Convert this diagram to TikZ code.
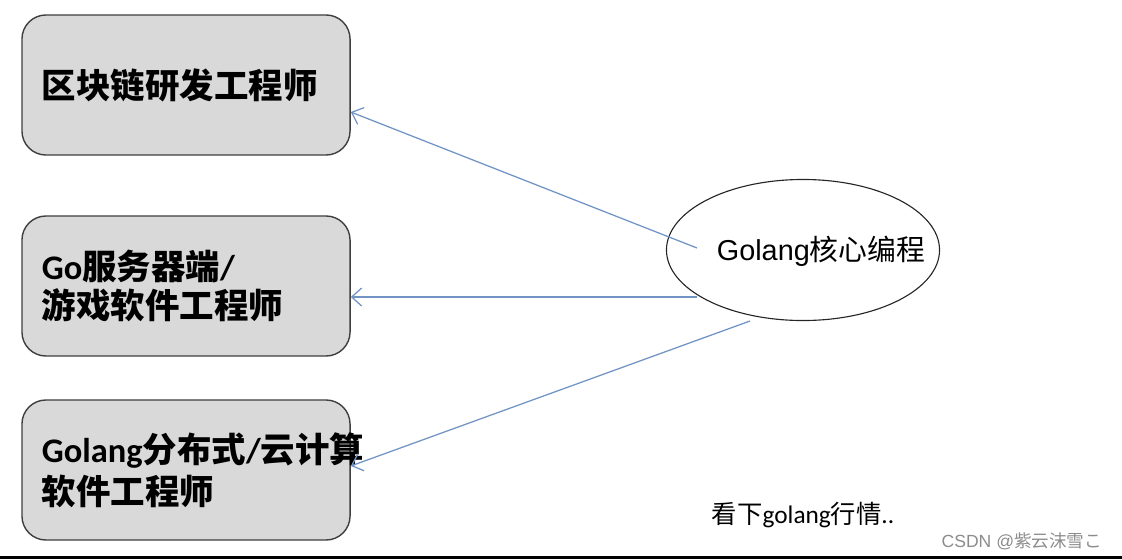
\documentclass[tikz,border=0pt]{standalone}
\usepackage{fontspec}
\setmainfont{Carlito}
\newfontfamily\cjk{Noto Sans CJK SC}
\newfontfamily\arial{Liberation Sans}
\newcommand\zh[1]{{\cjk #1}}
\usetikzlibrary{arrows.meta,calc,shapes.geometric}
\definecolor{boxgray}{HTML}{D9D9D9}
\definecolor{edgegray}{HTML}{3F3F3F}
\definecolor{arrowblue}{HTML}{7294C4}
\begin{document}
\begin{tikzpicture}[x=0.025cm,y=-0.025cm,
    job/.style={draw=edgegray,fill=boxgray,line width=1pt,rounded corners=0.6cm,
        minimum width=8.2cm,minimum height=3.5cm,text width=7.2cm,align=left,
        inner xsep=0.5cm,font=\fontsize{24.5}{28}\selectfont\bfseries},
    link/.style={draw=arrowblue,line width=0.9pt,-{Straight Barb[length=2.5mm,width=4.5mm]}}]
                    \useasboundingbox (0,0) rectangle (1122,559);
                    \node[job] (box1) at (186,85) {\zh{区块链研发工程师}};
                    \node[job] (box2) at (186,286) {Go\zh{服务器端}/\\\zh{游戏软件工程师}};
                    \node[job] (box3) at (186,470) {Golang\zh{分布式}/\zh{云计算}\\[2pt]\zh{软件工程师}};
                    \node[draw=black!85,line width=0.8pt,ellipse,inner sep=0pt,
                        minimum width=6.825cm,minimum height=3.525cm] (core) at (803,250) {};
                    \node[font=\fontsize{20.5}{24}\selectfont] (coretxt) at (821,251) {\arial Golang\zh{核心编程}};
                    \draw[link] ($(core.center)+(-106,-2)$) -- ($(box1.east)+(0,27)$);
                    \draw[link] ($(core.center)+(-106,47)$) -- ($(box2.east)+(0,11)$);
                    \draw[link] ($(core.center)+(-53,71)$) -- ($(box3.east)+(0,-4)$);
                    \node[anchor=west,font=\fontsize{18}{21}\selectfont] (note) at (707,515) {\zh{看下}golang\zh{行情}..};
                    \node[anchor=east,text=black!45,font=\fontsize{12.5}{15}\selectfont] (mark) at (1107,541) {\arial CSDN @\zh{紫云沫雪こ}};
                    \draw[line width=2.1pt] (0,557.5) -- (1122,557.5);
                \end{tikzpicture}
\end{document}
